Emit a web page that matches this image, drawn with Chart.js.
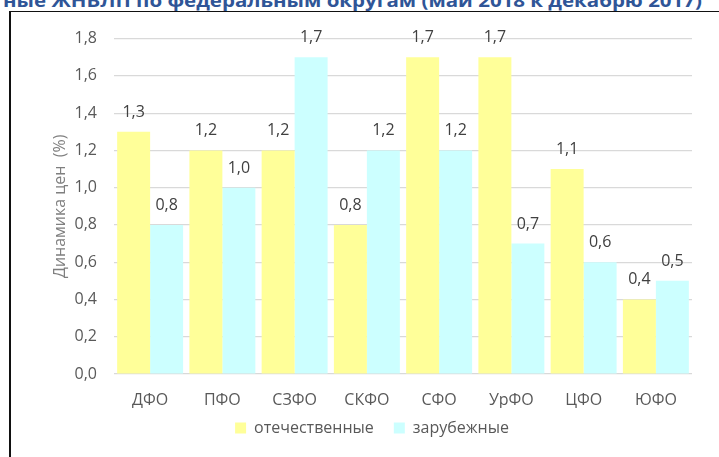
<!DOCTYPE html>
<html lang="ru">
<head>
<meta charset="utf-8">
<title>Динамика цен ЖНВЛП</title>
<script src="https://cdn.jsdelivr.net/npm/chart.js@4.4.1/dist/chart.umd.min.js"></script>
<style>
  html, body { margin: 0; padding: 0; background: #fff; overflow: hidden; }
  body { width: 719px; height: 457px; position: relative; }
  #title {
    position: absolute; left: 3px; top: -9px;
    font: bold 18px 'Open Sans', sans-serif; line-height: 18px;
    color: #2f5597; white-space: nowrap; transform-origin: 0 0;
  }
  #frame {
    position: absolute; left: 9px; top: 11px;
    border-left: 2px solid #111; border-top: 1px solid #111;
    width: 708px; height: 445px;
  }
  canvas { display: block; }
</style>
</head>
<body>
<div id="title">ные ЖНВЛП по федеральным округам (май 2018 к декабрю 2017)</div>
<div id="frame"><canvas id="chart" width="708" height="445"></canvas></div>
<script>
const categories = ['ДФО', 'ПФО', 'СЗФО', 'СКФО', 'СФО', 'УрФО', 'ЦФО', 'ЮФО'];
const domestic = [1.3, 1.2, 1.2, 0.8, 1.7, 1.7, 1.1, 0.4];
const foreign = [0.8, 1.0, 1.7, 1.2, 1.2, 0.7, 0.6, 0.5];
const seriesNames = ['отечественные', 'зарубежные'];
const axisTitle = 'Динамика цен  (%)';

const FONT = "'Open Sans', sans-serif";
const fmt = (v) => v.toFixed(1).replace('.', ',');

// stretch the clipped heading to the width it has in the picture
const title = document.getElementById('title');
title.style.transform = `scaleX(${699 / title.offsetWidth})`;

const valueLabels = {
  id: 'valueLabels',
  afterDatasetsDraw(chart) {
    const { ctx } = chart;
    ctx.save();
    ctx.font = `16px ${FONT}`;
    ctx.fillStyle = '#404040';
    ctx.textAlign = 'center';
    ctx.textBaseline = 'alphabetic';
    chart.data.datasets.forEach((ds, i) => {
      chart.getDatasetMeta(i).data.forEach((bar, j) => {
        ctx.fillText(fmt(ds.data[j]), bar.x, bar.y - 15);
      });
    });
    ctx.restore();
  }
};

// the legend sits a little closer to the axis labels than its padding allows
const raiseLegend = {
  id: 'raiseLegend',
  afterLayout(chart) {
    chart.legend.top -= 8;
    chart.legend.bottom -= 8;
  }
};

new Chart(document.getElementById('chart').getContext('2d'), {
  type: 'bar',
  data: {
    labels: categories,
    datasets: [
      { label: seriesNames[0], data: domestic, backgroundColor: '#ffff99' },
      { label: seriesNames[1], data: foreign, backgroundColor: '#ccffff' }
    ]
  },
  options: {
    responsive: false,
    animation: false,
    categoryPercentage: 0.913,
    barPercentage: 1,
    layout: { padding: { left: 41, right: 27, top: 24, bottom: 3 } },
    plugins: {
      legend: {
        position: 'bottom',
        labels: {
          boxWidth: 11,
          boxHeight: 11,
          padding: 20,
          color: '#595959',
          font: { family: FONT, size: 16 }
        }
      },
      tooltip: { enabled: false }
    },
    scales: {
      x: {
        grid: { display: false },
        border: { display: false },
        ticks: { color: '#595959', padding: 9, font: { family: FONT, size: 16 } },
        afterFit(scale) { scale.height = 34; }
      },
      y: {
        min: 0,
        max: 1.8,
        border: { display: false },
        grid: { color: '#d9d9d9', lineWidth: 1.25, drawTicks: false },
        ticks: {
          stepSize: 0.2,
          padding: 17,
          color: '#595959',
          font: { family: FONT, size: 16 },
          callback: (v) => fmt(v)
        },
        title: {
          display: true,
          text: axisTitle,
          color: '#7f7f7f',
          padding: { top: -1, bottom: 0 },
          font: { family: FONT, size: 16 }
        },
        afterFit(scale) { scale.width = 62; }
      }
    }
  },
  plugins: [valueLabels, raiseLegend]
});
</script>
</body>
</html>
